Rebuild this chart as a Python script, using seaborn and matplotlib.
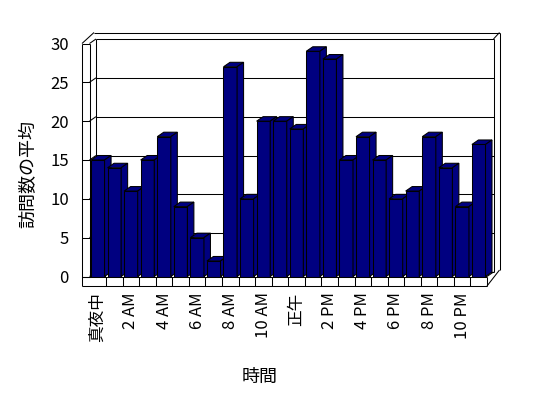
import matplotlib
matplotlib.use("Agg")
import matplotlib.pyplot as plt
from matplotlib.patches import Polygon
from matplotlib.lines import Line2D
from matplotlib.transforms import IdentityTransform
import numpy as np
import pandas as pd
import seaborn as sns

# ---- data ----
hours = ["真夜中", "1 AM", "2 AM", "3 AM", "4 AM", "5 AM", "6 AM", "7 AM", "8 AM",
         "9 AM", "10 AM", "11 AM", "正午", "1 PM", "2 PM", "3 PM", "4 PM", "5 PM",
         "6 PM", "7 PM", "8 PM", "9 PM", "10 PM", "11 PM"]
visits = [15, 14, 11, 15, 18, 9, 5, 2, 27, 10, 20, 20,
          19, 29, 28, 15, 18, 15, 10, 11, 18, 14, 9, 17]
tick_labels = ["真夜中", "2 AM", "4 AM", "6 AM", "8 AM", "10 AM",
               "正午", "2 PM", "4 PM", "6 PM", "8 PM", "10 PM"]
y_ticks = [0, 5, 10, 15, 20, 25, 30]

sns.set_theme(style="white")
plt.rcParams["font.family"] = ["Noto Sans CJK JP", "DejaVu Sans"]

W, H = 548, 398
fig = plt.figure(figsize=(W / 100, H / 100), dpi=100)
fig.patch.set_facecolor("white")
ax = fig.add_axes([89.5 / W, (H - 276.5) / H, (487 - 89.5) / W, (276.5 - 43.5) / H])

df = pd.DataFrame({"時間": hours, "訪問数の平均": visits})
NAVY = "#000080"
sns.barplot(data=df, x="時間", y="訪問数の平均", order=hours, color=NAVY,
            saturation=1, width=0.82, edgecolor="black", linewidth=0.75, ax=ax)
ax.set_xlim(-0.5, 23.5)
ax.set_ylim(0, 30)
ax.grid(False)
ax.set_facecolor("none")
for s in ax.spines.values():
    s.set_visible(False)

ax.set_yticks(y_ticks)
ax.tick_params(axis="y", length=0, pad=14.8, labelsize=12, colors="black")
ax.set_xticks(range(0, 24, 2))
ax.set_xticklabels(tick_labels, rotation=90)
ax.tick_params(axis="x", length=0, pad=11.5, labelsize=12, colors="black")
for t in ax.get_xticklabels():
    t.set_va("top")
    t.set_ha("center")

ax.set_ylabel("訪問数の平均", fontsize=13, color="black")
ax.yaxis.label.set_va("center")
ax.yaxis.set_label_coords((28 - 89.5) / 397.5, (276.5 - 173.5) / 233)
ax.set_xlabel("時間", fontsize=13, color="black")
ax.xaxis.label.set_va("center")
ax.xaxis.set_label_coords((259.5 - 89.5) / 397.5, (276.5 - 377) / 233)

# ---- 3D frame (display pixel coordinates, y up) ----
ID = IdentityTransform()
LW = 0.75
dx, dy = 6.5, 4.5
(Lx, By) = ax.transAxes.transform((0, 0))
(Rx, Ty) = ax.transAxes.transform((1, 1))
wall = 7.5      # left wall thickness
slab = 9.5      # floor slab thickness
topw = 6.5      # top frame thickness
rw = 6.0        # right frame thickness


def line(xs, ys, z=1):
    ax.add_line(Line2D(xs, ys, transform=ID, color="black", lw=LW,
                       clip_on=False, zorder=z, solid_capstyle="butt"))


def ypix(v):
    return ax.transData.transform((0, v))[1]


# back wall gridlines
for v in y_ticks:
    yv = ypix(v)
    line([Lx + dx, Rx + dx], [yv + dy, yv + dy])
    # left wall tick marks
    line([Lx - wall, Lx], [yv, yv])
    line([Lx, Lx + dx], [yv, yv + dy])

# verticals
line([Lx + dx, Lx + dx], [By + dy, Ty + dy])
line([Rx + dx, Rx + dx], [By + dy, Ty + dy])
line([Lx, Lx], [By, Ty])
line([Lx - wall, Lx - wall], [By - slab, Ty])
# top frame
line([Lx - wall, Lx + dx - 2], [Ty, Ty + dy + topw])
line([Lx + dx - 2, Rx + dx + rw], [Ty + dy + topw, Ty + dy + topw])
line([Rx + dx, Rx + dx + rw], [Ty + dy, Ty + dy + topw])
# right frame
line([Rx + dx + rw, Rx + dx + rw], [By + dy + 2, Ty + dy + topw])
# floor slab
line([Lx - wall, Rx], [By, By], z=60)
line([Lx - wall, Rx], [By - slab, By - slab], z=60)
line([Rx, Rx], [By - slab, By], z=60)
for k in range(23):
    xk = ax.transData.transform((k + 0.5, 0))[0]
    line([xk, xk], [By - slab, By], z=60)
line([Rx, Rx + dx], [By, By + dy], z=60)
line([Rx, Rx + dx + rw], [By - slab, By + dy + 2], z=60)

# ---- bar depth faces ----
bars = sorted([p for p in ax.patches], key=lambda p: p.get_x())
for i, p in enumerate(bars):
    (x0, y0) = ax.transData.transform((p.get_x(), p.get_y()))
    (x1, y1) = ax.transData.transform((p.get_x() + p.get_width(), p.get_y() + p.get_height()))
    p.set_zorder(3 + 2 * i)
    top = Polygon([(x0, y1), (x1, y1), (x1 + dx, y1 + dy), (x0 + dx, y1 + dy)],
                  closed=True, transform=ID, facecolor=NAVY, edgecolor="black",
                  lw=LW, zorder=4 + 2 * i, clip_on=False)
    side = Polygon([(x1, y0), (x1 + dx, y0 + dy), (x1 + dx, y1 + dy), (x1, y1)],
                   closed=True, transform=ID, facecolor=NAVY, edgecolor="black",
                   lw=LW, zorder=4 + 2 * i, clip_on=False)
    ax.add_patch(top)
    ax.add_patch(side)

fig.savefig("out.png", dpi=100)
